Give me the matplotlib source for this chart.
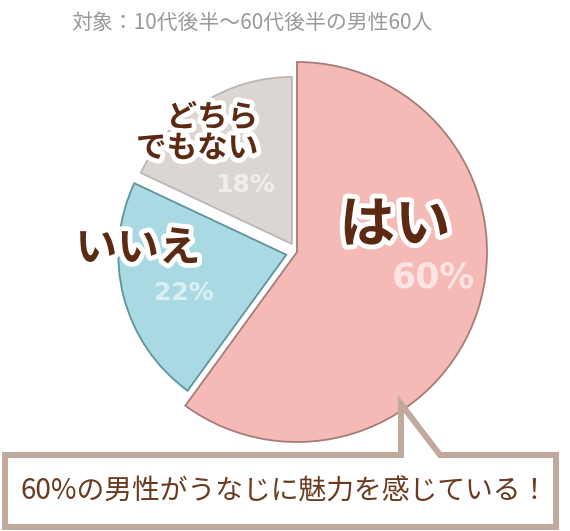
import matplotlib
matplotlib.use('Agg')
import matplotlib.pyplot as plt
import matplotlib.patheffects as pe
from matplotlib.patches import Polygon

plt.rcParams['font.family'] = ['Noto Sans CJK JP', 'DejaVu Sans']

# データ
labels = ['はい', 'いいえ', 'どちら\nでもない']
values = [60, 22, 18]
pct_labels = ['%d%%' % v for v in values]
colors = ['#f6bab6', '#a9dae4', '#dbd6d3']
edges = ['#a67c78', '#5f939b', '#bdb6b1']
title = '対象：10代後半～60代後半の男性60人'
note = '60%の男性がうなじに魅力を感じている！'

W, H = 570, 531
brown = '#5c2a12'

fig = plt.figure(figsize=(W / 100, H / 100), dpi=100)
ax = fig.add_axes([0, 0, 1, 1])

# 円グラフ（座標はピクセル、y は上向き）
wedges, _ = ax.pie(values, colors=colors, startangle=90, counterclock=False,
                   radius=190, center=(297, H - 252),
                   explode=[0, 11, 9.5],
                   wedgeprops=dict(linewidth=1.3))
for w, ec in zip(wedges, edges):
    w.set_edgecolor(ec)
wedges[1].set_radius(168)
wedges[2].set_radius(167)

ax.set_xlim(0, W)
ax.set_ylim(0, H)
ax.set_aspect('equal')
ax.axis('off')

stroke = [pe.withStroke(linewidth=7, foreground='white')]

# ラベル
lab_pos = [(395, 226), (138, 249), (258, 133)]
lab_size = [40, 30, 22]
lab_ha = ['center', 'center', 'right']
for t, (x, y), s, ha in zip(labels, lab_pos, lab_size, lab_ha):
    ax.text(x, H - y, t, fontsize=s, fontweight='bold', color=brown,
            ha=ha, va='center', multialignment='right', linespacing=0.95,
            path_effects=stroke, zorder=5)

pct_pos = [(433, 278), (184, 293), (245, 185)]
pct_size = [25, 18, 18]
for t, (x, y), s in zip(pct_labels, pct_pos, pct_size):
    ax.text(x, H - y, t, fontsize=s, fontweight='bold', color='white',
            alpha=0.6, ha='center', va='center', family=['DejaVu Sans'],
            zorder=5)

# タイトル
ax.text(252, H - 23, title, fontsize=15, color='#9a9a9a',
        ha='center', va='center')

# 吹き出し
bx_l, bx_r, bx_t, bx_b = 5, 556, 455, 527
box = Polygon([(bx_l, H - bx_t), (401, H - bx_t), (401, H - 404),
               (440, H - bx_t), (bx_r, H - bx_t), (bx_r, H - bx_b),
               (bx_l, H - bx_b)], closed=True, facecolor='white',
              edgecolor='#c1a99d', linewidth=4.3, joinstyle='miter', zorder=4)
ax.add_patch(box)
ax.text(285, H - 492, note, fontsize=20, color='#6b3b20',
        ha='center', va='center', zorder=5)

plt.savefig('out.png', dpi=100)
